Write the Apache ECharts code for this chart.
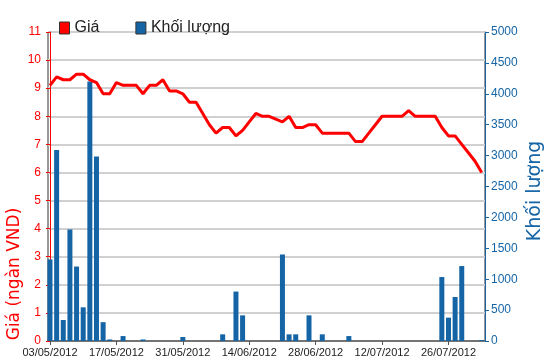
<!DOCTYPE html>
<html>
<head>
<meta charset="utf-8">
<script src="https://cdn.jsdelivr.net/npm/echarts@6/dist/echarts.min.js"></script>
<style>
  html, body { margin: 0; padding: 0; background: #fff; }
  #chart { width: 550px; height: 364px; }
</style>
</head>
<body>
<div id="chart"></div>
<script>
// trading days 03/05/2012 - 02/08/2012
var dates = [
  '03/05/2012', '04/05/2012', '07/05/2012', '08/05/2012', '09/05/2012', '10/05/2012', '11/05/2012',
  '14/05/2012', '15/05/2012', '16/05/2012', '17/05/2012', '18/05/2012', '21/05/2012', '22/05/2012',
  '23/05/2012', '24/05/2012', '25/05/2012', '28/05/2012', '29/05/2012', '30/05/2012', '31/05/2012',
  '01/06/2012', '04/06/2012', '05/06/2012', '06/06/2012', '07/06/2012', '08/06/2012', '11/06/2012',
  '12/06/2012', '13/06/2012', '14/06/2012', '15/06/2012', '18/06/2012', '19/06/2012', '20/06/2012',
  '21/06/2012', '22/06/2012', '25/06/2012', '26/06/2012', '27/06/2012', '28/06/2012', '29/06/2012',
  '02/07/2012', '03/07/2012', '04/07/2012', '05/07/2012', '06/07/2012', '09/07/2012', '10/07/2012',
  '11/07/2012', '12/07/2012', '13/07/2012', '16/07/2012', '17/07/2012', '18/07/2012', '19/07/2012',
  '20/07/2012', '23/07/2012', '24/07/2012', '25/07/2012', '26/07/2012', '27/07/2012', '30/07/2012',
  '31/07/2012', '01/08/2012', '02/08/2012'
];

// Giá (ngàn VND)
var price = [
  9.1, 9.4, 9.3, 9.3, 9.5, 9.5, 9.3, 9.2, 8.8, 8.8,
  9.2, 9.1, 9.1, 9.1, 8.8, 9.1, 9.1, 9.3, 8.9, 8.9,
  8.8, 8.5, 8.5, 8.1, 7.7, 7.4, 7.6, 7.6, 7.3, 7.5,
  7.8, 8.1, 8.0, 8.0, 7.9, 7.8, 8.0, 7.6, 7.6, 7.7,
  7.7, 7.4, 7.4, 7.4, 7.4, 7.4, 7.1, 7.1, 7.4, 7.7,
  8.0, 8.0, 8.0, 8.0, 8.2, 8.0, 8.0, 8.0, 8.0, 7.6,
  7.3, 7.3, 7.0, 6.7, 6.4, 6.0
];

// Khối lượng
var volume = [
  1320, 3090, 340, 1805, 1205, 545, 4200, 2985, 305, 25,
  0, 80, 0, 0, 25, 0, 0, 0, 0, 0,
  65, 0, 0, 0, 0, 0, 108, 0, 800, 415,
  0, 0, 0, 0, 0, 1400, 108, 108, 0, 415,
  0, 108, 0, 0, 0, 80, 0, 0, 0, 0,
  0, 0, 0, 0, 0, 0, 0, 0, 0, 1035,
  378, 712, 1213, 0, 0, 15
];

var labelIdx = [0, 10, 20, 30, 40, 50, 60];

var red = '#ff0000';
var blue = '#1565a6';
var sans = "'Liberation Sans', Arial, sans-serif";

var myChart = echarts.init(document.getElementById('chart'));
var option = {
  animation: false,
  legend: {
    left: 54,
    top: 15,
    icon: 'rect',
    itemWidth: 10,
    itemHeight: 12,
    itemGap: 36,
    data: ['Giá', 'Khối lượng'],
    itemStyle: { borderColor: '#333', borderWidth: 1 },
    textStyle: { fontSize: 16, color: '#222', fontFamily: sans }
  },
  grid: {
    left: 48,
    right: 65,
    top: 32,
    bottom: 23,
    show: true,
    borderColor: '#333',
    borderWidth: 1
  },
  graphic: [
    {
      type: 'text',
      x: 15,
      y: 274,
      rotation: Math.PI / 2,
      style: {
        text: 'Giá (ngàn VND)',
        fill: red,
        font: "17px 'DejaVu Sans', sans-serif",
        textAlign: 'center',
        textVerticalAlign: 'middle'
      }
    },
    {
      type: 'text',
      x: 535,
      y: 191,
      rotation: Math.PI / 2,
      style: {
        text: 'Khối lượng',
        fill: blue,
        font: "19px 'DejaVu Sans', sans-serif",
        textAlign: 'center',
        textVerticalAlign: 'middle'
      }
    }
  ],
  xAxis: {
    type: 'value',
    min: -0.3,
    max: 65.5,
    axisLine: { lineStyle: { color: '#555', width: 1.5 } },
    axisTick: { customValues: labelIdx, length: 4, lineStyle: { color: '#555' } },
    axisLabel: {
      customValues: labelIdx,
      margin: 6,
      fontSize: 11,
      color: '#222',
      fontFamily: sans,
      formatter: function (v) { return dates[v]; }
    },
    splitLine: { show: false }
  },
  yAxis: [
    {
      type: 'value',
      min: 0,
      max: 11,
      interval: 1,
      axisLine: { show: true, lineStyle: { color: red } },
      axisTick: { show: true, length: 4, lineStyle: { color: red } },
      axisLabel: { color: red, fontSize: 12, margin: 7, fontFamily: sans },
      splitLine: { lineStyle: { color: '#d0d0d0', width: 2 } }
    },
    {
      type: 'value',
      min: 0,
      max: 5000,
      interval: 500,
      position: 'right',
      axisLine: { show: true, lineStyle: { color: blue } },
      axisTick: { show: true, length: 4, lineStyle: { color: blue } },
      axisLabel: {
        color: blue, fontSize: 12, margin: 6, fontFamily: sans,
        formatter: function (v) { return String(v); }
      },
      splitLine: { show: false }
    }
  ],
  series: [
    {
      name: 'Giá',
      type: 'line',
      yAxisIndex: 0,
      showSymbol: false,
      symbol: 'none',
      lineStyle: { color: red, width: 3 },
      itemStyle: { color: red },
      data: price.map(function (v, i) { return [i, v]; })
    },
    {
      name: 'Khối lượng',
      type: 'bar',
      yAxisIndex: 1,
      barWidth: 5,
      itemStyle: { color: blue },
      data: volume.map(function (v, i) { return [i, v]; })
    }
  ]
};

myChart.setOption(option);
</script>
</body>
</html>
